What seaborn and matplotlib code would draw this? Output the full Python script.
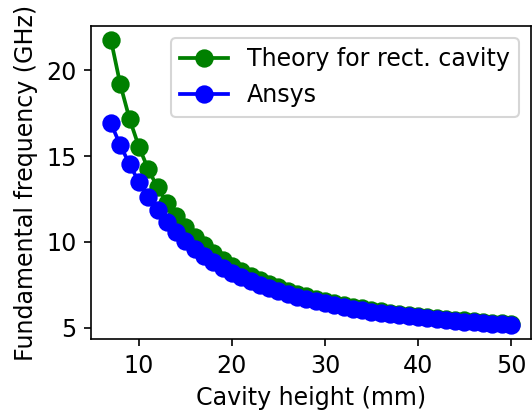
import matplotlib
matplotlib.use("Agg")
import matplotlib.pyplot as plt
import seaborn as sns
import pandas as pd

heights = list(range(7, 51))
theory = [21.76, 19.18, 17.16, 15.55, 14.24, 13.18, 12.29, 11.53, 10.87, 10.30,
          9.80, 9.35, 8.96, 8.62, 8.31, 8.03, 7.78, 7.55, 7.35, 7.16,
          6.99, 6.84, 6.70, 6.57, 6.44, 6.33, 6.23, 6.13, 6.04, 5.96,
          5.88, 5.81, 5.74, 5.68, 5.62, 5.57, 5.51, 5.46, 5.42, 5.37,
          5.33, 5.29, 5.26, 5.22]
ansys = [16.91, 15.63, 14.53, 13.49, 12.64, 11.86, 11.19, 10.58, 10.06, 9.61,
         9.18, 8.82, 8.50, 8.21, 7.94, 7.70, 7.49, 7.29, 7.11, 6.94,
         6.79, 6.66, 6.53, 6.42, 6.30, 6.20, 6.11, 6.02, 5.93, 5.86,
         5.79, 5.72, 5.66, 5.60, 5.55, 5.50, 5.45, 5.40, 5.36, 5.32,
         5.28, 5.24, 5.21, 5.17]
series_names = ["Theory for rect. cavity", "Ansys"]
series_colors = ["green", "blue"]

df = pd.DataFrame({"h": heights, series_names[0]: theory, series_names[1]: ansys})

plt.rcParams["font.size"] = 11.4

fig = plt.figure(figsize=(532 / 150, 412 / 150), dpi=150)
ax = fig.add_axes([91 / 532, 1 - 339 / 412, (531 - 91) / 532, (339 - 26) / 412])

for name, col in zip(series_names, series_colors):
    sns.lineplot(data=df, x="h", y=name, ax=ax, color=col, label=name,
                 marker="o", markersize=7.8, markeredgecolor=col,
                 markeredgewidth=1, linewidth=1.8)

ax.set_xlabel("Cavity height (mm)")
ax.set_ylabel("Fundamental frequency (GHz)")
ax.set_xticks([10, 20, 30, 40, 50])
ax.set_yticks([5, 10, 15, 20])
ax.legend(loc="upper right")

fig.savefig("out.png", dpi=150)
